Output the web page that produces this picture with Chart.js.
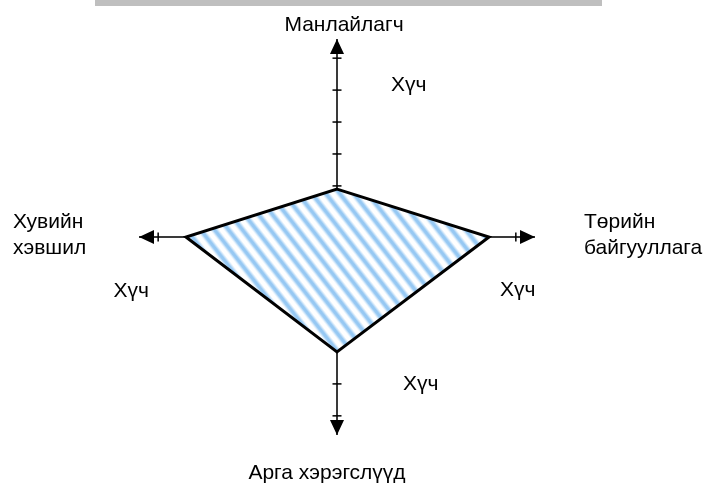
<!DOCTYPE html>
<html><head><meta charset="utf-8">
<script src="https://cdn.jsdelivr.net/npm/chart.js@4"></script>
<style>
html,body{margin:0;padding:0;background:#fff;}
#wrap{position:relative;width:703px;height:485px;overflow:hidden;}
#bar{position:absolute;left:95px;top:0;width:507px;height:6px;background:#bfbfbf;}
canvas{display:block;}
</style></head><body>
<div id="wrap"><canvas id="c" width="703" height="485"></canvas><div id="bar"></div></div>
<script>
// ---- data ----
const categories = ['Манлайлагч', 'Төрийн байгууллага', 'Арга хэрэгслүүд', 'Хувийн хэвшил'];
const axisLabelLines = [['Манлайлагч'], ['Төрийн', 'байгууллага'], ['Арга хэрэгслүүд'], ['Хувийн', 'хэвшил']];
const strengthValues = [0.9, 4.16, 3.0, 4.13];
const axisTicks = [1, 2, 3, 4, 5];
const strengthLabel = 'Хүч';
const scaleMin = -0.6;
const scaleMax = 5.6;

// ---- styling / layout (not data) ----
const FONT = '21px "Liberation Sans", Arial, sans-serif';
// label placement relative to the scale centre: [dx, dy(first baseline), align]
const axisLabelPlace = [[7, -206, 'center'], [247, -9, 'left'], [-10, 242, 'center'], [-324, -9, 'left']];
const strengthPlace = [[54, -146, 'left'], [163, 59, 'left'], [66, 153, 'left'], [-188, 60, 'right']];

function makeStripePattern(ctx) {
  const t = document.createElement('canvas');
  t.width = 11; t.height = 11;
  const g = t.getContext('2d');
  g.fillStyle = '#ffffff';
  g.fillRect(0, 0, 11, 11);
  const gr = g.createLinearGradient(0, 0, 11, 0);
  gr.addColorStop(0, 'rgba(255,255,255,1)');
  gr.addColorStop(0.18, 'rgba(255,255,255,1)');
  gr.addColorStop(0.42, '#96c8f3');
  gr.addColorStop(0.6, '#96c8f3');
  gr.addColorStop(0.84, 'rgba(255,255,255,1)');
  gr.addColorStop(1, 'rgba(255,255,255,1)');
  g.fillStyle = gr;
  g.fillRect(0, 0, 11, 11);
  const p = ctx.createPattern(t, 'repeat');
  p.setTransform(new DOMMatrix().rotate(-38));
  return p;
}

const axisPlugin = {
  id: 'axisPlugin',
  beforeDatasetsDraw(chart) {
    const s = chart.scales.r, ctx = chart.ctx;
    const n = categories.length;
    ctx.save();
    for (let i = 0; i < n; i++) {
      const tip = s.getPointPosition(i, s.drawingArea);
      ctx.strokeStyle = '#3a3a3a';
      ctx.lineWidth = 2;
      ctx.beginPath();
      ctx.moveTo(s.xCenter, s.yCenter);
      ctx.lineTo(tip.x, tip.y);
      ctx.stroke();
      const dx = tip.x - s.xCenter, dy = tip.y - s.yCenter;
      const len = Math.hypot(dx, dy);
      const px = -dy / len, py = dx / len;
      ctx.strokeStyle = '#000';
      ctx.lineWidth = 1.5;
      axisTicks.forEach(v => {
        if (v < strengthValues[i] + 0.02) return; // hidden under the filled area
        const p = s.getPointPositionForValue(i, v);
        ctx.beginPath();
        ctx.moveTo(p.x - px * 4.5, p.y - py * 4.5);
        ctx.lineTo(p.x + px * 4.5, p.y + py * 4.5);
        ctx.stroke();
      });
    }
    ctx.restore();
  },
  afterDatasetsDraw(chart) {
    const s = chart.scales.r, ctx = chart.ctx;
    const n = categories.length;
    ctx.save();
    for (let i = 0; i < n; i++) {
      const tip = s.getPointPosition(i, s.drawingArea);
      const dx = tip.x - s.xCenter, dy = tip.y - s.yCenter;
      const len = Math.hypot(dx, dy);
      const ux = dx / len, uy = dy / len, px = -uy, py = ux;
      const bx = tip.x - ux * 15, by = tip.y - uy * 15;
      ctx.fillStyle = '#000';
      ctx.beginPath();
      ctx.moveTo(tip.x, tip.y);
      ctx.lineTo(bx + px * 7, by + py * 7);
      ctx.lineTo(bx - px * 7, by - py * 7);
      ctx.closePath();
      ctx.fill();
    }
    ctx.restore();
  },
  afterDraw(chart) {
    const s = chart.scales.r, ctx = chart.ctx;
    ctx.save();
    ctx.font = FONT;
    ctx.fillStyle = '#000';
    ctx.textBaseline = 'alphabetic';
    axisLabelLines.forEach((lines, i) => {
      const [dx, dy, al] = axisLabelPlace[i];
      ctx.textAlign = al;
      lines.forEach((ln, k) => ctx.fillText(ln, s.xCenter + dx, s.yCenter + dy + k * 25.5));
    });
    strengthPlace.forEach(([dx, dy, al]) => {
      ctx.textAlign = al;
      ctx.fillText(strengthLabel, s.xCenter + dx, s.yCenter + dy);
    });
    ctx.restore();
  }
};

const canvas = document.getElementById('c');
const ctx = canvas.getContext('2d');

new Chart(ctx, {
  type: 'radar',
  data: {
    labels: categories,
    datasets: [{
      data: strengthValues,
      backgroundColor: makeStripePattern(ctx),
      borderColor: '#000',
      borderWidth: 3,
      borderJoinStyle: 'miter',
      pointRadius: 0,
      fill: 'start',
      tension: 0
    }]
  },
  options: {
    responsive: false,
    animation: false,
    devicePixelRatio: 1,
    layout: { padding: { left: 139, right: 167, top: 39, bottom: 49 } },
    plugins: { legend: { display: false }, tooltip: { enabled: false } },
    scales: {
      r: {
        min: scaleMin,
        max: scaleMax,
        ticks: { display: false, stepSize: 1 },
        grid: { display: false },
        angleLines: { display: false },
        pointLabels: { display: false }
      }
    }
  },
  plugins: [axisPlugin]
});
</script>
</body></html>
